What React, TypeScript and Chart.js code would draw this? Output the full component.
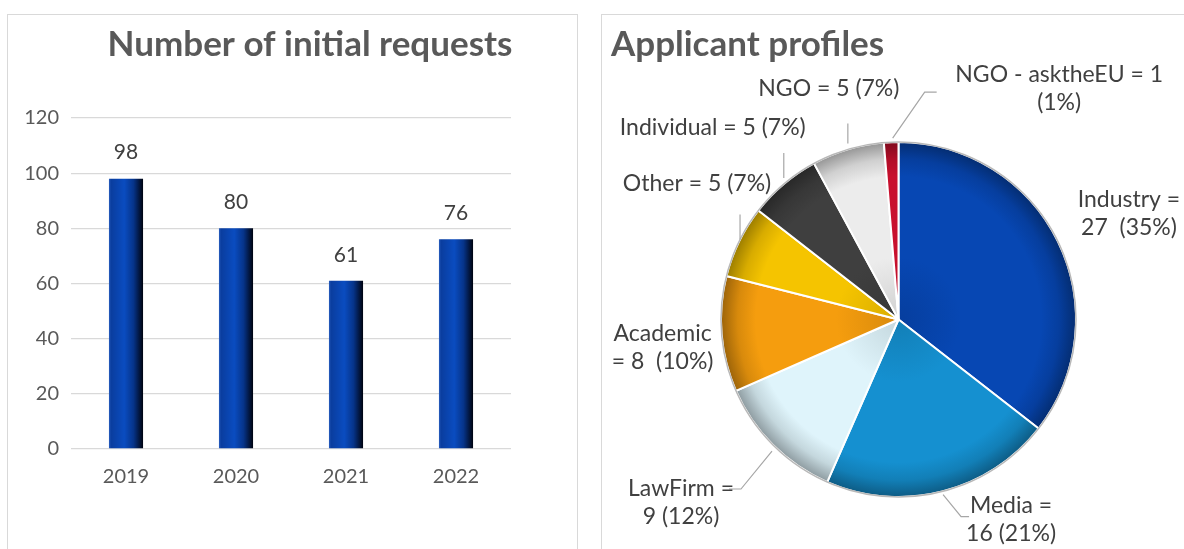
import React, { useEffect, useRef } from "react";
import { Chart, registerables } from "chart.js";

Chart.register(...registerables);

// ---------- data ----------
const years: string[] = ["2019", "2020", "2021", "2022"];
const requests: number[] = [98, 80, 61, 76];
const yMax = 120;
const yStep = 20;

const profiles: string[] = ["Industry", "Media", "LawFirm", "Academic", "Other", "Individual", "NGO", "NGO - asktheEU"];
const profileCounts: number[] = [27, 16, 9, 8, 5, 5, 5, 1];
const profileLabelText: string[][] = [
  ["Industry =", "27  (35%)"],
  ["Media =", "16 (21%)"],
  ["LawFirm =", "9 (12%)"],
  ["Academic", "= 8  (10%)"],
  ["Other = 5 (7%)"],
  ["Individual = 5 (7%)"],
  ["NGO = 5 (7%)"],
  ["NGO - asktheEU = 1", "(1%)"],
];
const profileColors: string[] = ["#0747b3", "#1590d0", "#dff4fb", "#f59d0e", "#f5c400", "#3f3f3f", "#ececec", "#c8102e"];

// label placement relative to the outer midpoint of each slice
const labelLayout: { dx: number; dy: number; leader?: number[][] }[] = [
  { dx: 71, dy: -28 },
  { dx: 69, dy: 28, leader: [[1, 3], [19, 25], [27, 25]] },
  { dx: -92, dy: 58, leader: [[-1, 6], [-32, 44], [-44, 44]] },
  { dx: -59, dy: 13 },
  { dx: -42, dy: -58, leader: [[1, -2], [1, -27]] },
  { dx: -71, dy: -56, leader: [[0, -6], [0, -31]] },
  { dx: -19, dy: -61, leader: [[0, -6], [0, -26]] },
  { dx: 168, dy: -54, leader: [[1.5, -4], [33.5, -50], [45.5, -50]] },
];

const FONT = "Lato, Carlito, 'Open Sans', sans-serif";
const TEXT = "#595959";
const LABEL = "#404040";

function shade(hex: string, amt: number): string {
  const n = parseInt(hex.slice(1), 16);
  let r = (n >> 16) & 255, g = (n >> 8) & 255, b = n & 255;
  const t = amt < 0 ? 0 : 255;
  const p = Math.abs(amt);
  r = Math.round(r + (t - r) * p);
  g = Math.round(g + (t - g) * p);
  b = Math.round(b + (t - b) * p);
  return `rgb(${r},${g},${b})`;
}

const barLabelPlugin = {
  id: "barLabels",
  afterDatasetsDraw(chart: any) {
    const ctx = chart.ctx;
    const meta = chart.getDatasetMeta(0);
    ctx.save();
    ctx.font = `21px ${FONT}`;
    ctx.fillStyle = LABEL;
    ctx.textAlign = "center";
    ctx.textBaseline = "middle";
    meta.data.forEach((el: any, i: number) => {
      ctx.fillText(String(requests[i]), el.x, el.y - 26);
    });
    ctx.restore();
  },
  afterDraw(chart: any) {
    const ctx = chart.ctx;
    ctx.save();
    ctx.font = `bold 35px ${FONT}`;
    ctx.fillStyle = TEXT;
    ctx.textAlign = "center";
    ctx.textBaseline = "middle";
    ctx.fillText("Number of initial requests", 302, 30);
    ctx.restore();
  },
};

const pieLabelPlugin = {
  id: "pieLabels",
  afterDatasetsDraw(chart: any) {
    const ctx = chart.ctx;
    const meta = chart.getDatasetMeta(0);
    ctx.save();
    const a0: any = meta.data[0];
    if (a0) {
      ctx.beginPath();
      ctx.arc(a0.x, a0.y, a0.outerRadius, 0, Math.PI * 2);
      ctx.strokeStyle = "#b8b8b8";
      ctx.lineWidth = 1.5;
      ctx.stroke();
    }
    ctx.font = `23px ${FONT}`;
    ctx.fillStyle = LABEL;
    ctx.textAlign = "center";
    ctx.textBaseline = "middle";
    ctx.strokeStyle = "#a6a6a6";
    ctx.lineWidth = 1.2;
    meta.data.forEach((arc: any, i: number) => {
      const mid = (arc.startAngle + arc.endAngle) / 2;
      const ox = arc.x + Math.cos(mid) * arc.outerRadius;
      const oy = arc.y + Math.sin(mid) * arc.outerRadius;
      const lay = labelLayout[i];
      if (lay.leader) {
        ctx.beginPath();
        lay.leader.forEach(([dx, dy], k) => {
          if (k === 0) ctx.moveTo(ox + dx, oy + dy);
          else ctx.lineTo(ox + dx, oy + dy);
        });
        ctx.stroke();
      }
      const lines = profileLabelText[i];
      const lh = 28;
      lines.forEach((t, k) => {
        ctx.fillText(t, ox + lay.dx, oy + lay.dy + (k - (lines.length - 1) / 2) * lh);
      });
    });
    ctx.restore();
  },
};

const pieTitlePlugin = {
  id: "pieTitle",
  afterDraw(chart: any) {
    const ctx = chart.ctx;
    ctx.save();
    ctx.font = `bold 35px ${FONT}`;
    ctx.fillStyle = TEXT;
    ctx.textAlign = "left";
    ctx.textBaseline = "middle";
    ctx.fillText("Applicant profiles", 9, 30);
    ctx.restore();
  },
};

function BarPanel() {
  const ref = useRef<HTMLCanvasElement>(null);
  useEffect(() => {
    if (!ref.current) return;
    const chart = new Chart(ref.current, {
      type: "bar",
      data: {
        labels: years,
        datasets: [
          {
            data: requests,
            categoryPercentage: 1,
            barPercentage: 0.31,
            backgroundColor: (c: any) => {
              const ch = c.chart;
              const xs = ch.scales && ch.scales.x;
              if (!xs || c.dataIndex === undefined || !ch.chartArea) return "#0a3fa0";
              const cx = xs.getPixelForValue(c.dataIndex);
              const w = (xs.width / years.length) * 0.31;
              const g = ch.ctx.createLinearGradient(cx - w / 2, 0, cx + w / 2, 0);
              g.addColorStop(0, "#2a5fc0");
              g.addColorStop(0.06, "#0a3d9e");
              g.addColorStop(0.45, "#0a4cc0");
              g.addColorStop(0.72, "#06348a");
              g.addColorStop(1, "#00030f");
              return g;
            },
            borderWidth: 0,
          },
        ],
      },
      options: {
        responsive: false,
        animation: false,
        events: [],
        layout: { padding: { left: 0, right: 66, top: 103, bottom: 44 } },
        plugins: {
          legend: { display: false },
          tooltip: { enabled: false },
          title: { display: false },
        },
        scales: {
          x: {
            grid: { display: false, drawTicks: false },
            border: { display: false },
            ticks: { color: TEXT, font: { family: FONT, size: 20 }, padding: 16 },
          },
          y: {
            min: 0,
            max: yMax,
            grid: { color: "#d9d9d9", lineWidth: 1.3, drawTicks: false },
            border: { display: false },
            ticks: { stepSize: yStep, color: TEXT, font: { family: FONT, size: 20 }, padding: 12 },
            afterFit: (s: any) => {
              s.width = 63;
            },
          },
        },
      },
      plugins: [barLabelPlugin],
    } as any);
    return () => chart.destroy();
  }, []);
  return <canvas ref={ref} width={569} height={534} style={{ width: 569, height: 534, display: "block" }} />;
}

function PiePanel() {
  const ref = useRef<HTMLCanvasElement>(null);
  useEffect(() => {
    if (!ref.current) return;
    const chart = new Chart(ref.current, {
      type: "pie",
      data: {
        labels: profiles,
        datasets: [
          {
            data: profileCounts,
            backgroundColor: (c: any) => {
              const ch = c.chart;
              const base = profileColors[c.dataIndex ?? 0];
              const a = ch.chartArea;
              if (!a || c.dataIndex === undefined) return base;
              const cx = (a.left + a.right) / 2;
              const cy = (a.top + a.bottom) / 2;
              const r = Math.min(a.right - a.left, a.bottom - a.top) / 2;
              const g = ch.ctx.createRadialGradient(cx, cy, 0, cx, cy, r);
              g.addColorStop(0, shade(base, -0.12));
              g.addColorStop(0.35, base);
              g.addColorStop(0.8, base);
              g.addColorStop(0.9, shade(base, -0.12));
              g.addColorStop(1, shade(base, -0.38));
              return g;
            },
            borderColor: "#ffffff",
            borderWidth: 2,
          },
        ],
      },
      options: {
        responsive: false,
        animation: false,
        events: [],
        layout: { padding: { left: 118, right: 107, top: 126, bottom: 51 } },
        plugins: {
          legend: { display: false },
          tooltip: { enabled: false },
          title: { display: false },
        },
      },
      plugins: [pieLabelPlugin, pieTitlePlugin],
    } as any);
    return () => chart.destroy();
  }, []);
  return <canvas ref={ref} width={582} height={534} style={{ width: 582, height: 534, display: "block" }} />;
}

export default function App() {
  return (
    <div style={{ position: "fixed", left: 0, top: 0, width: 1184, height: 549, overflow: "hidden", background: "#fff" }}>
      <div style={{ position: "absolute", left: 7, top: 14, width: 569, height: 545, border: "1px solid #d9d9d9" }}>
        <BarPanel />
      </div>
      <div style={{ position: "absolute", left: 601, top: 14, width: 600, height: 545, border: "1px solid #d9d9d9" }}>
        <PiePanel />
      </div>
    </div>
  );
}
